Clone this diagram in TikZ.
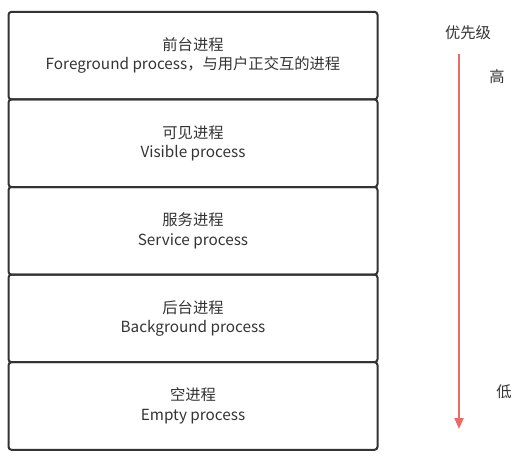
\documentclass[tikz,border=0pt]{standalone}
\usepackage{fontspec}
\setmainfont{Noto Sans CJK SC}
\usetikzlibrary{arrows.meta,positioning}
\definecolor{edge}{HTML}{333333}
\definecolor{prio}{HTML}{EA6B66}

\begin{document}
\begin{tikzpicture}[
    x=1pt, y=1pt,
    layer/.style={draw=edge, line width=2pt, rounded corners=3pt, outer sep=0pt, minimum width=369pt, minimum height=87.6pt, align=center, text=edge, font=\fontsize{15.3}{19.5}\selectfont},
    tag/.style={text=edge, font=\fontsize{15.3}{19.5}\selectfont, inner sep=0pt},
    arrow/.style={-{Triangle[length=11pt, width=9pt]}, draw=prio, line width=2pt}
]
\useasboundingbox (0,0) rectangle (527,-468);

% Process layers, top priority first
\node[layer] (fg) at (193,-55.6) {前台进程\\Foreground process，与用户正交互的进程};
\node[layer, below=0pt of fg] (vis) {可见进程\\Visible process};
\node[layer, below=0pt of vis] (svc) {服务进程\\Service process};
\node[layer, below=0pt of svc] (bg) {后台进程\\Background process};
\node[layer, below=0pt of bg] (empty) {空进程\\Empty process};

% Priority axis
\node[tag] (prio) at (468,-33) {优先级};
\node[tag] (high) at (497,-77) {高};
\node[tag] (low) at (504,-392) {低};
\coordinate (axtop) at (459,-54);
\coordinate (axend) at (459,-429);
\draw[arrow] (axtop) -- (axend);
\end{tikzpicture}
\end{document}
